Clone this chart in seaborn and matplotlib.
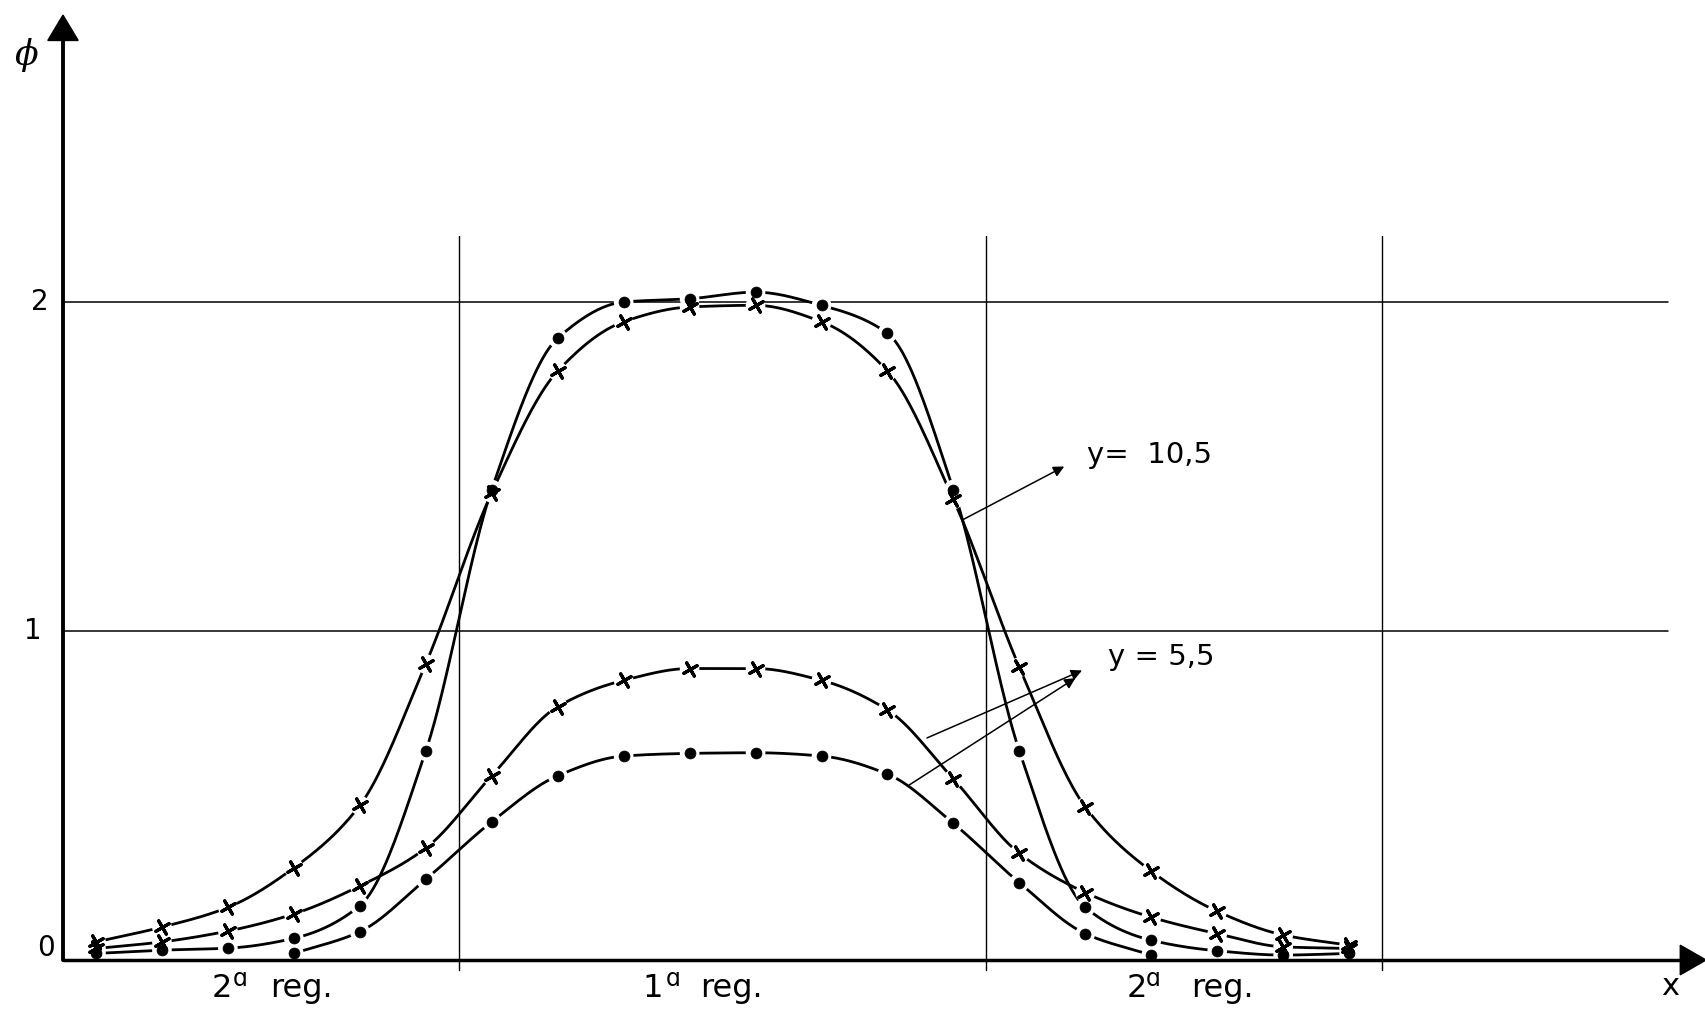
import numpy as np
import matplotlib
matplotlib.use("Agg")
import matplotlib.pyplot as plt
from matplotlib.patches import Polygon
import seaborn as sns

# Cell-centre abscissae of the mesh nodes
x_nodes = [i + 0.5 for i in range(20)]

# Flux phi along the row y = 10.5 (dots: steeper profile, crosses: wider profile)
phi_y105_dot = [0.02, 0.03, 0.036, 0.066, 0.165, 0.635, 1.43, 1.89, 2.00, 2.01,
                2.03, 1.99, 1.905, 1.43, 0.635, 0.16, 0.06, 0.028, 0.015, 0.02]
phi_y105_cross = [0.055, 0.10, 0.16, 0.28, 0.47, 0.90, 1.42, 1.79, 1.94, 1.985,
                  1.99, 1.94, 1.79, 1.40, 0.89, 0.465, 0.27, 0.148, 0.076, 0.045]

# Flux phi along the row y = 5.5
phi_y55_cross = [0.035, 0.055, 0.088, 0.14, 0.225, 0.34, 0.56, 0.77, 0.85, 0.886,
                 0.886, 0.85, 0.76, 0.55, 0.324, 0.205, 0.13, 0.08, 0.04, 0.035]
x_nodes_y55_dot = [i + 0.5 for i in range(3, 17)]
phi_y55_dot = [0.02, 0.086, 0.245, 0.42, 0.56, 0.62, 0.628, 0.63, 0.62, 0.565,
               0.415, 0.235, 0.08, 0.015]

# Region boundaries and reference levels
region_bounds = [6, 14, 20]
phi_levels = [1, 2]
tick_values = [0, 1, 2]
tick_labels = ["0", "1", "2"]

INK = "black"

sns.set_theme(style="white")
plt.rcParams["font.family"] = ["DejaVu Sans"]

fig = plt.figure(figsize=(17.06, 10.11), dpi=100)
ax = fig.add_axes([0, 0, 1, 1])
ax.set_xlim(-0.955, 24.91)
ax.set_ylim(-0.155, 2.918)
ax.axis("off")


def pchip(x, y, n_per=40):
    """Monotone cubic Hermite curve through the nodes, for drawing."""
    x = np.asarray(x, float)
    y = np.asarray(y, float)
    h = np.diff(x)
    d = np.diff(y) / h
    m = np.zeros_like(y)
    m[0], m[-1] = d[0], d[-1]
    for k in range(1, len(y) - 1):
        if d[k - 1] * d[k] > 0:
            w1 = 2 * h[k] + h[k - 1]
            w2 = h[k] + 2 * h[k - 1]
            m[k] = (w1 + w2) / (w1 / d[k - 1] + w2 / d[k])
    xs, ys = [], []
    for k in range(len(h)):
        t = np.linspace(0, 1, n_per, endpoint=False)
        h00 = 2 * t**3 - 3 * t**2 + 1
        h10 = t**3 - 2 * t**2 + t
        h01 = -2 * t**3 + 3 * t**2
        h11 = t**3 - t**2
        xs.append(x[k] + t * h[k])
        ys.append(h00 * y[k] + h10 * h[k] * m[k] + h01 * y[k + 1] + h11 * h[k] * m[k + 1])
    xs.append([x[-1]])
    ys.append([y[-1]])
    return np.concatenate(xs), np.concatenate(ys)


# Reference grid: phi = 1, 2 and region boundaries
for lv in phi_levels:
    ax.plot([0, 24.34], [lv, lv], color=INK, lw=1.1, zorder=1)
for xb in region_bounds:
    ax.plot([xb, xb], [-0.03, 2.20], color=INK, lw=1.0, zorder=1)

series = [
    (x_nodes, phi_y105_dot, "o"),
    (x_nodes, phi_y105_cross, "x"),
    (x_nodes, phi_y55_cross, "x"),
    (x_nodes_y55_dot, phi_y55_dot, "o"),
]

cross_marker = (4, 2, 30)

for xv, yv, _ in series:
    xs, ys = pchip(xv, yv)
    sns.lineplot(x=xs, y=ys, ax=ax, color=INK, linewidth=2.0,
                 estimator=None, sort=False, zorder=2, legend=False)

# white gaps around the plotted nodes
for xv, yv, _ in series:
    sns.scatterplot(x=xv, y=yv, ax=ax, marker="o", s=200, color="white",
                    edgecolor="none", linewidth=0, zorder=3, legend=False)

for xv, yv, kind in series:
    if kind == "o":
        sns.scatterplot(x=xv, y=yv, ax=ax, marker="o", s=62, color=INK,
                        edgecolor=INK, linewidth=0.5, zorder=4, legend=False)
    else:
        sns.scatterplot(x=xv, y=yv, ax=ax, marker=cross_marker, s=120,
                        color=INK, linewidth=2.3, zorder=4, legend=False)

# Axes with arrow heads
ax.plot([0, 0], [0, 2.80], color=INK, lw=2.8, zorder=5, solid_capstyle="round")
ax.plot([0, 24.56], [0, 0], color=INK, lw=2.5, zorder=5, solid_capstyle="round")
ax.add_patch(Polygon([[-0.23, 2.795], [0.23, 2.795], [0, 2.872]], closed=True,
                     color=INK, zorder=6))
ax.add_patch(Polygon([[24.52, -0.045], [24.52, 0.045], [24.91, 0]], closed=True,
                     color=INK, zorder=6))

# Tick values on the phi axis
tick_x = [-0.26, -0.455, -0.35]
tick_y = [0.037, 1.0, 2.0]
for tx, ty, lab in zip(tick_x, tick_y, tick_labels):
    ax.text(tx, ty, lab, fontsize=20, ha="center", va="center", color=INK)

# Axis names
ax.text(-0.546, 2.75, "ϕ", fontsize=25, ha="center", va="center", color=INK,
        family=["DejaVu Serif"], style="italic")
ax.text(24.37, -0.082, "x", fontsize=22, ha="center", va="center", color=INK)


def region_label(x_num, x_sup, x_word, num):
    base = -0.112
    ax.text(x_num, base, num, fontsize=23, ha="left", va="baseline", color=INK)
    ax.text(x_sup, base + 0.032, "ɑ", fontsize=17, ha="left", va="baseline", color=INK)
    ax.text(x_word, base, "reg.", fontsize=23, ha="left", va="baseline", color=INK)


region_label(2.26, 2.58, 3.14, "2")
region_label(8.78, 9.14, 9.66, "1")
region_label(16.12, 16.42, 17.10, "2")

# Row labels with pointer arrows
ax.text(15.53, 1.51, "y=  10,5", fontsize=21, ha="left", va="baseline", color=INK)
ax.text(15.85, 0.897, "y = 5,5", fontsize=21, ha="left", va="baseline", color=INK)

arrow_kw = dict(arrowstyle="-|>", lw=1.1, color=INK, mutation_scale=16,
                shrinkA=0, shrinkB=0)
ax.annotate("", xy=(15.18, 1.50), xytext=(13.63, 1.337), arrowprops=arrow_kw, zorder=5)
ax.annotate("", xy=(15.45, 0.88), xytext=(13.10, 0.675), arrowprops=arrow_kw, zorder=5)
ax.annotate("", xy=(15.35, 0.857), xytext=(12.83, 0.532), arrowprops=arrow_kw, zorder=5)

fig.savefig("out.png", dpi=100, facecolor="white")
